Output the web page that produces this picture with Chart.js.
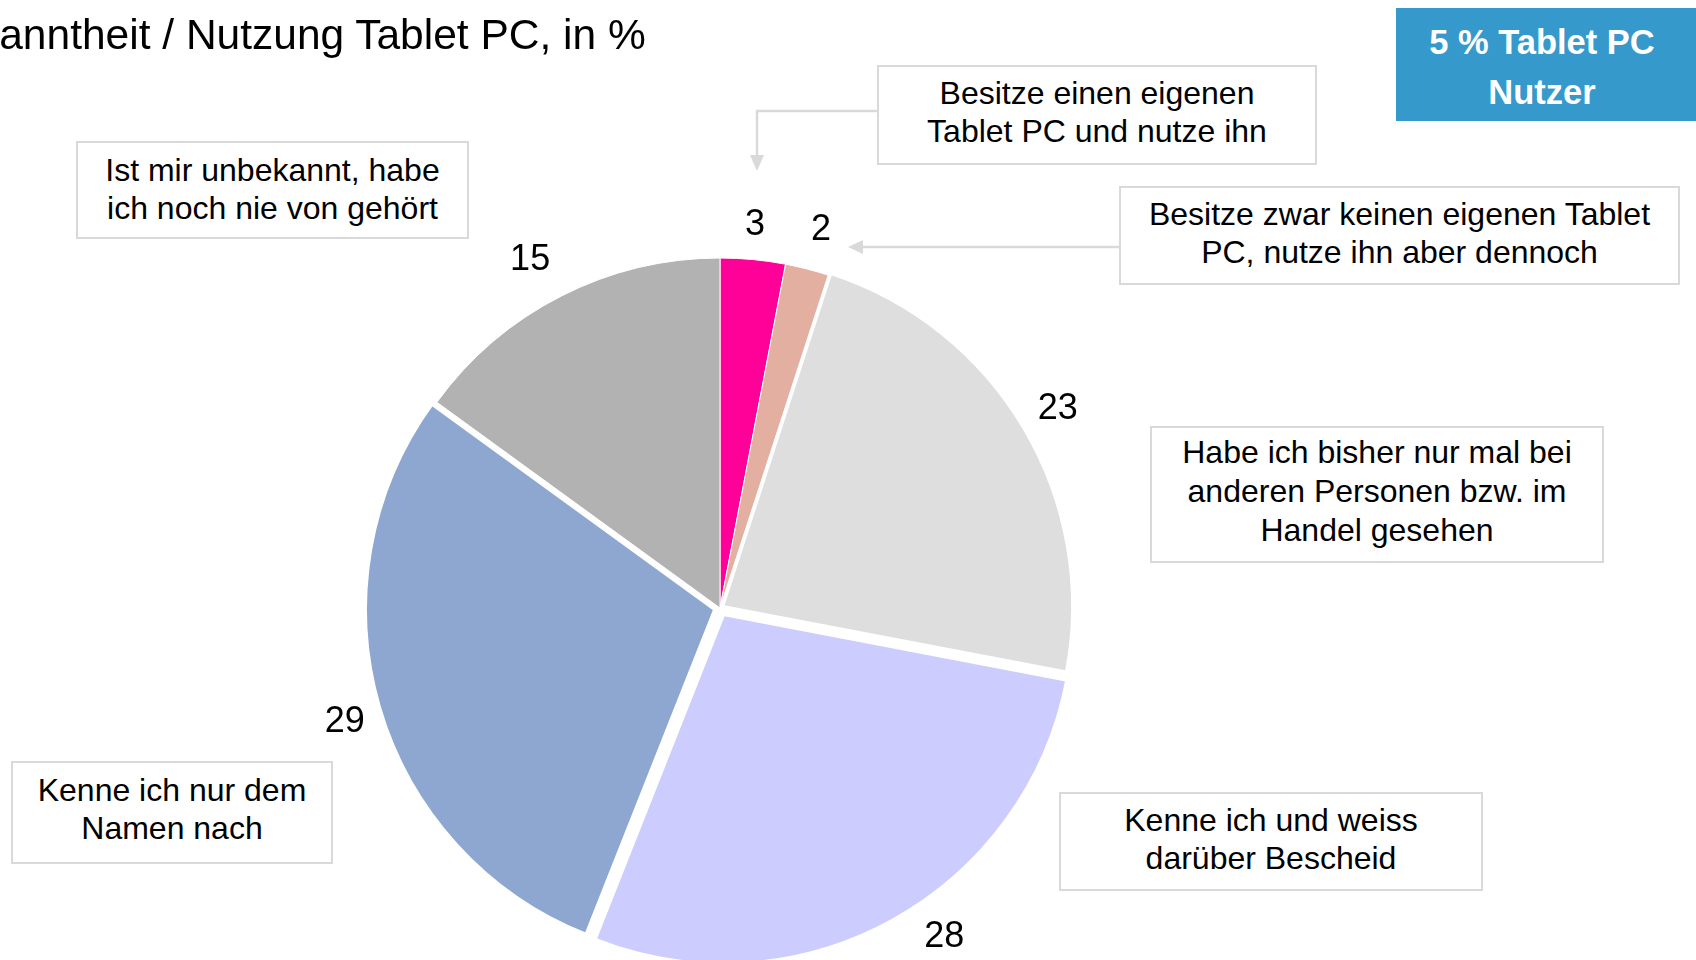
<!DOCTYPE html>
<html lang="de">
<head>
<meta charset="utf-8">
<title>Bekanntheit / Nutzung Tablet PC</title>
<script src="https://cdn.jsdelivr.net/npm/chart.js@4/dist/chart.umd.min.js"></script>
<style>
  html, body {
    margin: 0;
    padding: 0;
    background: #fff;
    overflow: hidden;
  }
  body {
    width: 1696px;
    height: 960px;
    position: relative;
    font-family: "Liberation Sans", Arial, sans-serif;
    color: #000;
  }
  #chart-wrap {
    position: absolute;
    left: 0;
    top: 0;
    width: 1696px;
    height: 960px;
  }
  .title {
    position: absolute;
    left: -74px;
    top: 13px;
    font-size: 42.5px;
    line-height: 44px;
    white-space: nowrap;
  }
  .note {
    position: absolute;
    box-sizing: border-box;
    border: 2px solid #d9d9d9;
    background: #fff;
    display: flex;
    align-items: center;
    justify-content: center;
    text-align: center;
    font-size: 32px;
    line-height: 38px;
    padding-bottom: 6px;
  }
  .badge {
    position: absolute;
    left: 1396px;
    top: 8px;
    width: 300px;
    height: 113px;
    background: #3599cc;
    color: #fff;
    font-weight: bold;
    font-size: 34.5px;
    line-height: 50px;
    text-align: center;
    padding-top: 9px;
    box-sizing: border-box;
    padding-right: 8px;
  }
</style>
</head>
<body>
<div id="chart-wrap"><canvas id="pie"></canvas></div>

<div class="title">Bekanntheit / Nutzung Tablet PC, in %</div>
<div class="badge">5 % Tablet PC<br>Nutzer</div>

<div class="note" style="left:76px;top:141px;width:393px;height:98px;padding-bottom:2px;">Ist mir unbekannt, habe<br>ich noch nie von gehört</div>
<div class="note" style="left:877px;top:65px;width:440px;height:100px;">Besitze einen eigenen<br>Tablet PC und nutze ihn</div>
<div class="note" style="left:1119px;top:186px;width:561px;height:99px;">Besitze zwar keinen eigenen Tablet<br>PC, nutze ihn aber dennoch</div>
<div class="note" style="left:1150px;top:426px;width:454px;height:137px;line-height:39px;">Habe ich bisher nur mal bei<br>anderen Personen bzw. im<br>Handel gesehen</div>
<div class="note" style="left:1059px;top:792px;width:424px;height:99px;">Kenne ich und weiss<br>darüber Bescheid</div>
<div class="note" style="left:11px;top:761px;width:322px;height:103px;padding-bottom:8px;">Kenne ich nur dem<br>Namen nach</div>

<script>
(function () {
  // clockwise from 12 o'clock
  var categories = [
    "Besitze einen eigenen Tablet PC und nutze ihn",
    "Besitze zwar keinen eigenen Tablet PC, nutze ihn aber dennoch",
    "Habe ich bisher nur mal bei anderen Personen bzw. im Handel gesehen",
    "Kenne ich und weiss darüber Bescheid",
    "Kenne ich nur dem Namen nach",
    "Ist mir unbekannt, habe ich noch nie von gehört"
  ];
  var shares = [3, 2, 23, 28, 29, 15];
  var sliceColors = ["#ff0099", "#e3afa0", "#dedede", "#ccccff", "#8ea7d0", "#b2b2b2"];

  var canvas = document.getElementById("pie");

  /** Value labels just outside each slice (nudged like the hand-placed originals). */
  var outsideLabels = {
    id: "outsideLabels",
    afterDatasetsDraw: function (chart, args, opts) {
      var ctx = chart.ctx;
      var meta = chart.getDatasetMeta(0);
      var ds = chart.data.datasets[0];
      var nudge = opts.nudge || [];
      ctx.save();
      ctx.font = "36px 'Liberation Sans', Arial, sans-serif";
      ctx.fillStyle = "#000";
      ctx.textAlign = "center";
      ctx.textBaseline = "middle";
      meta.data.forEach(function (arc, i) {
        var p = arc.getProps(["x", "y", "startAngle", "endAngle", "outerRadius"], true);
        var mid = (p.startAngle + p.endAngle) / 2;
        // ArcElement moves a slice by offset / 4
        var off = ((ds.offset && ds.offset[i]) || 0) / 4;
        var r = p.outerRadius + off + opts.gap;
        var n = nudge[i] || [0, 0];
        ctx.fillText(String(ds.data[i]), p.x + Math.cos(mid) * r + n[0], p.y + Math.sin(mid) * r + n[1] + opts.dy);
      });
      ctx.restore();
    }
  };

  /** Grey connector arrows from the two owner boxes. */
  var connectors = {
    id: "connectors",
    afterDraw: function (chart) {
      var ctx = chart.ctx;
      ctx.save();
      ctx.strokeStyle = "#d9d9d9";
      ctx.fillStyle = "#d9d9d9";
      ctx.lineWidth = 2.5;

      ctx.beginPath();
      ctx.moveTo(877, 111);
      ctx.lineTo(757, 111);
      ctx.lineTo(757, 156);
      ctx.stroke();
      ctx.beginPath();
      ctx.moveTo(750, 155);
      ctx.lineTo(764, 155);
      ctx.lineTo(757, 171);
      ctx.closePath();
      ctx.fill();

      ctx.beginPath();
      ctx.moveTo(1119, 247);
      ctx.lineTo(862, 247);
      ctx.stroke();
      ctx.beginPath();
      ctx.moveTo(863, 240);
      ctx.lineTo(863, 254);
      ctx.lineTo(848, 247);
      ctx.closePath();
      ctx.fill();
      ctx.restore();
    }
  };

  new Chart(canvas, {
    type: "pie",
    data: {
      labels: categories,
      datasets: [
        {
          data: shares,
          backgroundColor: sliceColors,
          borderColor: "#ffffff",
          borderWidth: [1, 1, 3, 4, 4, 1],
          offset: [0, 0, 12, 28, 20, 0],
          clip: false
        }
      ]
    },
    options: {
      responsive: true,
      maintainAspectRatio: false,
      animation: false,
      events: [],
      radius: 350,
      layout: {
        padding: { left: 0, right: 256, top: 256, bottom: 0 }
      },
      plugins: {
        legend: { display: false },
        tooltip: { enabled: false },
        outsideLabels: {
          gap: 44,
          dy: 3,
          nudge: [[-2, 6], [3, 1], [-4, 0], [31, -25], [8, 0], [-11, 0]]
        }
      }
    },
    plugins: [outsideLabels, connectors]
  });
})();
</script>
</body>
</html>
